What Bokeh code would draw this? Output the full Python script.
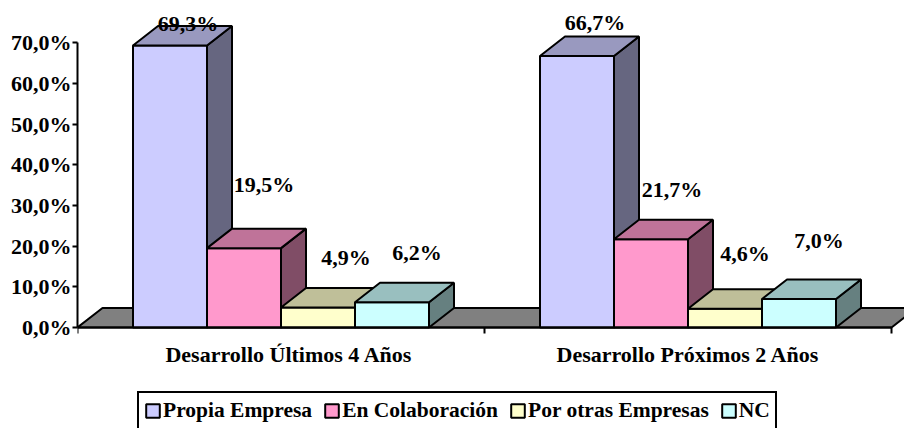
from bokeh.plotting import figure
from bokeh.embed import file_html
from bokeh.resources import INLINE
from bokeh.models import FixedTicker, Legend, LegendItem, Range1d, ColumnDataSource
from bokeh.core.properties import value

categories = ["Desarrollo Últimos 4 Años", "Desarrollo Próximos 2 Años"]
series_names = ["Propia Empresa", "En Colaboración", "Por otras Empresas", "NC"]
propia = [69.3, 66.7]
colaboracion = [19.5, 21.7]
otras = [4.9, 4.6]
nc = [6.2, 7.0]
y_ticks = [0, 10, 20, 30, 40, 50, 60, 70]
y_tick_labels = ["0,0%", "10,0%", "20,0%", "30,0%", "40,0%", "50,0%", "60,0%", "70,0%"]

front = ["#CCCCFF", "#FF99CC", "#FFFFCC", "#CCFFFF"]
top = ["#9999BF", "#BF7399", "#BFBF99", "#99BFBF"]
side = ["#666680", "#804D66", "#808066", "#668080"]
FONT = "Liberation Serif"

# layout, in data units: one category = 407 px, 1 % = 4.07 px
BAR = 74 / 407
DX = 25 / 407
DY = 19.5 / 4.07
# label shifts from the top-back centre of each bar, px
label_dx = [[18, 20, 28, 25], [18, 21, 20, 20]]
label_dy = [[2, 44, 31, 30], [14, 30, 36, 39]]

p = figure(width=904, height=428, output_backend="svg", toolbar_location=None,
           x_range=Range1d(0, 827 / 407), y_range=Range1d(-101 / 4.07, 327 / 4.07),
           min_border_left=77, min_border_right=0, min_border_top=0, min_border_bottom=0,
           background_fill_color="white", border_fill_color="white",
           outline_line_color=None)
p.grid.visible = False

p.patch([0, DX, 2 + DX, 2], [0, DY, DY, 0], fill_color="#808080", line_color="black", line_width=2)

items = []
series = [propia, colaboracion, otras, nc]
for s, vals in enumerate(series):
    left = [g + 0.5 + (s - 2) * BAR for g in range(2)]
    right = [l + BAR for l in left]
    q = p.quad(left=left, right=right, bottom=[0, 0], top=vals,
               fill_color=front[s], line_color="black", line_width=2)
    p.patches([[r, r + DX, r + DX, r] for r in right],
              [[0, DY, v + DY, v] for v in vals],
              fill_color=side[s], line_color="black", line_width=2)
    p.patches([[l, l + DX, r + DX, r] for l, r in zip(left, right)],
              [[v, v + DY, v + DY, v] for v in vals],
              fill_color=top[s], line_color="black", line_width=2)
    items.append(LegendItem(label=series_names[s], renderers=[q]))

for g in range(2):
    xs, ys, txt, xo, yo = [], [], [], [], []
    for s, vals in enumerate(series):
        xs.append(g + 0.5 + (s - 1.5) * BAR)
        ys.append(vals[g] + DY)
        txt.append(f"{vals[g]:.1f}%".replace(".", ","))
        xo.append(label_dx[g][s])
        yo.append(-label_dy[g][s])
    src = ColumnDataSource(dict(x=xs, y=ys, t=txt, xo=xo, yo=yo))
    p.text("x", "y", text="t", x_offset="xo", y_offset="yo", source=src,
           text_font=value(FONT), text_font_style="bold", text_font_size="22px",
           text_color="black", text_align="center", text_baseline="middle")

ya = p.yaxis[0]
ya.ticker = FixedTicker(ticks=y_ticks)
ya.major_label_overrides = dict(zip(y_ticks, y_tick_labels))
ya.bounds = (0, 70)
ya.axis_line_width = 2
ya.major_tick_line_width = 2
ya.major_tick_in = 0
ya.major_tick_out = 5
ya.minor_tick_line_color = None
ya.major_label_standoff = 1
ya.major_label_text_font = FONT
ya.major_label_text_font_style = "bold"
ya.major_label_text_font_size = "22px"
ya.major_label_text_color = "black"

label_ticks = [0.5 + 8 / 407, 1.5]
xa = p.xaxis[0]
xa.fixed_location = 0
xa.ticker = FixedTicker(ticks=label_ticks, minor_ticks=[0, 1, 2])
xa.major_label_overrides = dict(zip(label_ticks, categories))
xa.bounds = (0, 2)
xa.axis_line_width = 2
xa.major_tick_line_color = None
xa.major_tick_in = 0
xa.major_tick_out = 0
xa.minor_tick_line_width = 2
xa.minor_tick_in = 0
xa.minor_tick_out = 6
xa.major_label_standoff = 8
xa.major_label_text_font = FONT
xa.major_label_text_font_style = "bold"
xa.major_label_text_font_size = "22px"
xa.major_label_text_color = "black"

legend = Legend(items=items, orientation="horizontal", location=(60, -2),
                glyph_width=17, glyph_height=17, label_standoff=2, spacing=11,
                padding=5, margin=0, border_line_color="black", border_line_width=2,
                border_line_alpha=1,
                background_fill_color="white", background_fill_alpha=1,
                label_text_font=FONT, label_text_font_style="bold",
                label_text_font_size="21.5px", label_text_color="black",
                click_policy="none")
p.add_layout(legend, "center")

open("out.html", "w").write(file_html(p, INLINE))
